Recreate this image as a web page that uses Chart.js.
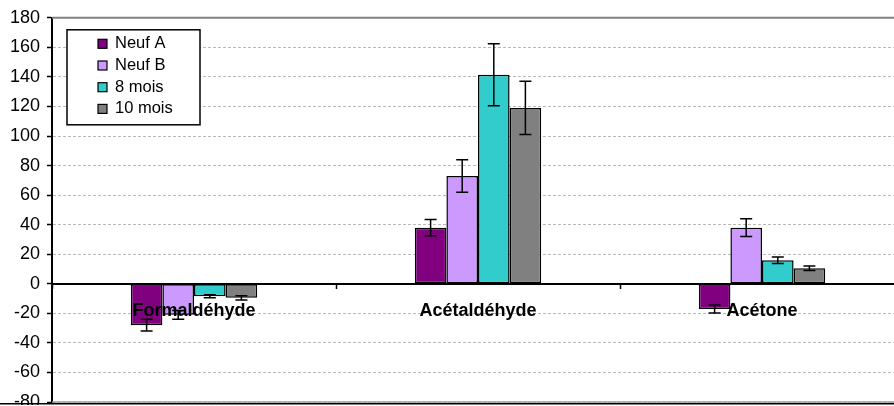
<!DOCTYPE html>
<html>
<head>
<meta charset="utf-8">
<script src="https://cdn.jsdelivr.net/npm/chart.js"></script>
<style>
  html, body { margin: 0; padding: 0; background: #fff; }
  #cadre { width: 894px; height: 405px; overflow: hidden; position: relative; }
  #myChart { position: absolute; left: 0; top: 0; }
</style>
</head>
<body>
<div id="cadre"><canvas id="myChart" width="920" height="420"></canvas></div>
<script>
var categories = ["Formaldéhyde", "Acétaldéhyde", "Acétone"];
var series = ["Neuf A", "Neuf B", "8 mois", "10 mois"];

// moyennes
var neufA = [-28, 38, -17];
var neufB = [-21, 73, 38];
var mois8 = [-8.5, 141.5, 16];
var mois10 = [-9.5, 119, 10.5];

// ecarts (barres d'erreur +/-)
var errNeufA = [4, 5.5, 2.7];
var errNeufB = [3, 11, 6];
var errMois8 = [1, 21, 2.2];
var errMois10 = [1.4, 18, 1.5];

var yMin = -80;
var yMax = 180;
var yStep = 20;

var police = "'Liberation Sans', Arial, sans-serif";
Chart.defaults.font.family = police;
Chart.defaults.color = "#000";

function creerDataset(label, data, erreurs, couleur) {
  return {
    label: label,
    data: data,
    erreurs: erreurs,
    backgroundColor: couleur,
    borderColor: "#000",
    borderWidth: 1.5,
    borderSkipped: false,
    categoryPercentage: 0.445,
    barPercentage: 1,
  };
}

// barres d'erreur dessinees par dessus les colonnes
var barresErreur = {
  id: "barresErreur",
  afterDatasetsDraw: function (chart) {
    var ctx = chart.ctx;
    var y = chart.scales.y;
    ctx.save();
    ctx.strokeStyle = "#000";
    ctx.lineWidth = 1.5;
    chart.data.datasets.forEach(function (ds, i) {
      var meta = chart.getDatasetMeta(i);
      meta.data.forEach(function (bar, j) {
        var v = ds.data[j];
        var e = ds.erreurs[j];
        var haut = y.getPixelForValue(v + e);
        var bas = y.getPixelForValue(v - e);
        ctx.beginPath();
        ctx.moveTo(bar.x, haut);
        ctx.lineTo(bar.x, bas);
        ctx.moveTo(bar.x - 6, haut);
        ctx.lineTo(bar.x + 6, haut);
        ctx.moveTo(bar.x - 6, bas);
        ctx.lineTo(bar.x + 6, bas);
        ctx.stroke();
      });
    });
    ctx.restore();
  },
};

// bord de la zone de trace + legende encadree
var cadreEtLegende = {
  id: "cadreEtLegende",
  afterDraw: function (chart) {
    var ctx = chart.ctx;
    var a = chart.chartArea;
    ctx.save();

    ctx.strokeStyle = "#808080";
    ctx.lineWidth = 2;
    ctx.beginPath();
    ctx.moveTo(a.left, a.top);
    ctx.lineTo(a.right, a.top);
    ctx.stroke();
    ctx.lineWidth = 1.5;
    ctx.strokeStyle = "#9a9a9a";
    ctx.beginPath();
    ctx.moveTo(a.left, a.bottom);
    ctx.lineTo(a.right, a.bottom);
    ctx.stroke();
    ctx.strokeStyle = "#000";
    ctx.beginPath();
    ctx.moveTo(0, a.bottom + 1.8);
    ctx.lineTo(chart.width, a.bottom + 1.8);
    ctx.stroke();

    var lx = a.left + 15;
    var ly = a.top + 12;
    ctx.fillStyle = "#fff";
    ctx.fillRect(lx, ly, 133, 95);
    ctx.strokeStyle = "#000";
    ctx.lineWidth = 1.5;
    ctx.strokeRect(lx, ly, 133, 95);
    ctx.font = "16.5px " + police;
    ctx.textBaseline = "middle";
    ctx.textAlign = "left";
    chart.data.datasets.forEach(function (ds, i) {
      var cy = ly + 14 + i * 21.7;
      ctx.fillStyle = ds.backgroundColor;
      ctx.fillRect(lx + 31, cy - 4.5, 9, 9);
      ctx.lineWidth = 1.2;
      ctx.strokeRect(lx + 31, cy - 4.5, 9, 9);
      ctx.fillStyle = "#000";
      ctx.fillText(ds.label, lx + 48, cy);
    });
    ctx.restore();
  },
};

new Chart(document.getElementById("myChart"), {
  type: "bar",
  data: {
    labels: categories,
    datasets: [
      creerDataset(series[0], neufA, errNeufA, "#800080"),
      creerDataset(series[1], neufB, errNeufB, "#cc99ff"),
      creerDataset(series[2], mois8, errMois8, "#33cccc"),
      creerDataset(series[3], mois10, errMois10, "#808080"),
    ],
  },
  options: {
    responsive: false,
    animation: false,
    devicePixelRatio: 1,
    layout: { padding: { top: 12, right: 16, bottom: 18, left: 0 } },
    plugins: {
      legend: { display: false },
      tooltip: { enabled: false },
    },
    scales: {
      x: {
        position: { y: 0 },
        offset: true,
        ticks: {
          z: 1,
          color: "#000",
          font: { size: 18, weight: "bold" },
          padding: 12,
          maxRotation: 0,
          autoSkip: false,
        },
        grid: {
          offset: true,
          drawOnChartArea: false,
          tickLength: 4,
          tickColor: "#000",
          tickWidth: 1.5,
        },
        border: { z: 1, color: "#000", width: 2 },
      },
      y: {
        min: yMin,
        max: yMax,
        ticks: { stepSize: yStep, color: "#000", font: { size: 18 }, padding: 7 },
        grid: { color: "#b8b8b8", lineWidth: 1, tickColor: "#000", tickLength: 5, tickWidth: 1.5 },
        border: { color: "#000", width: 2, dash: [3, 2] },
        afterFit: function (scale) {
          scale.width = 52;
        },
      },
    },
  },
  plugins: [barresErreur, cadreEtLegende],
});
</script>
</body>
</html>
